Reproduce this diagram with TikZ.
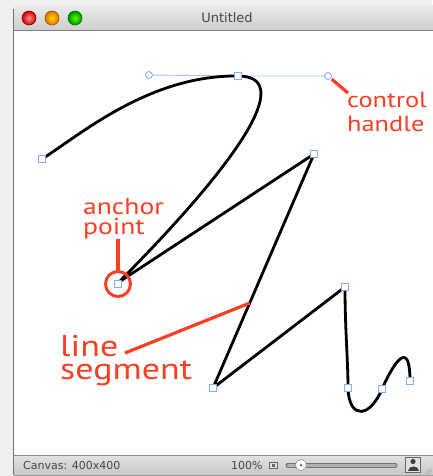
\documentclass[tikz,border=0pt]{standalone}
\usepackage{fontspec}
\setmainfont{DejaVu Sans}
\newfontfamily\calloutfont[FakeStretch=1.2]{PT Sans}
\usetikzlibrary{positioning,calc}
\definecolor{callred}{RGB}{252,62,36}
\definecolor{selblue}{RGB}{135,172,240}
\definecolor{handblue}{RGB}{160,190,245}

\begin{document}
\begin{tikzpicture}[
x=1pt, y=-1pt,
anchorpt/.style={draw=selblue, fill=white, line width=0.8pt, minimum size=7pt, inner sep=0pt},
handlept/.style={circle, draw=selblue, fill=white, line width=0.8pt, minimum size=7pt, inner sep=0pt},
pathline/.style={line width=2.8pt, line cap=round, line join=round},
handleline/.style={draw=handblue, line width=0.9pt},
callout/.style={draw=callred, line width=3.2pt},
lbl/.style={text=callred, inner sep=0pt, align=left, anchor=north west},
light/.style={circle, minimum size=14pt, inner sep=0pt, line width=0.6pt},
chrometext/.style={text=black!72, inner sep=0pt}
]
\useasboundingbox (0,0) rectangle (432,476);
% window chrome
\fill[black!6] (0,0) rectangle (432,476);
\shade[top color=black!8, bottom color=black!24, rounded corners=5pt] (13,5) rectangle (460,40);
\fill[white] (14,31) rectangle (440,455);
\draw[black!50] (14,30.5) -- (440,30.5);
\shade[top color=black!11, bottom color=black!22] (14,455) rectangle (440,475);
\draw[black!45] (14,455.5) -- (440,455.5);
\draw[black!40] (14,475.5) -- (440,475.5);
\draw[black!55] (13.5,9) -- (13.5,475);

\node[light, draw=red!55!black, inner color=red!45, outer color=red!80!black] (btnclose) at (29,18) {};
\node[light, draw=orange!60!black, inner color=yellow!70!orange, outer color=orange!90!black] (btnmin) at (52,18) {};
\node[light, draw=green!45!black, inner color=green!55!lime, outer color=green!55!black] (btnzoom) at (75,18) {};
\node[chrometext, font=\fontsize{13}{15}\selectfont] (title) at (227,18) {Untitled};

% status bar
\node[chrometext, anchor=west, font=\fontsize{11}{13}\selectfont] (canvas) at (23,465) {Canvas: 400x400};
\node[chrometext, anchor=west, font=\fontsize{11}{13}\selectfont] (zoompct) at (231,465) {100\%};
\node[draw=black!60, fill=black!12, minimum width=8pt, minimum height=6pt, inner sep=0pt] (zoomicon) at (273,465) {};
\fill[black!60] (271.5,464) rectangle (274.5,467);
\draw[line width=5pt, line cap=round, black!55] (288,465) -- (395,465);
\draw[line width=3pt, line cap=round, black!30] (288,465.5) -- (395,465.5);
\node[circle, draw=black!50, fill=white, minimum size=11pt, inner sep=0pt] (knob) at (301,465) {};
\fill[black!55] (knob) circle (1.5pt);
\node[draw=black!60, fill=black!12, minimum size=15pt, inner sep=0pt] (usericon) at (413,465) {};
\fill[black!75] (413,461.5) circle (2.6pt);
\fill[black!75] (407.5,471) .. controls (407.5,465) and (418.5,465) .. (418.5,471) -- cycle;
\draw[black!35] (425,474) -- (431,468) (428,474) -- (432,470);

% path points
\coordinate (p0) at (42,159);
\coordinate (p1) at (238,76);
\coordinate (p2) at (119,282);
\coordinate (p3) at (314,154);
\coordinate (p4) at (213,388);
\coordinate (p5) at (345,287);
\coordinate (p6) at (348,388);
\coordinate (p7) at (382,389);
\coordinate (p8) at (410,381);
\coordinate (h1) at (149,75);
\coordinate (h2) at (328,76);

\draw[handleline] (h1) -- (p1) -- (h2);
\draw[pathline] (p0) .. controls (80,135) and (h1) .. (p1)
  .. controls (290,76) and (255,145) .. (p2) -- (p3) -- (p4) -- (p5)
  .. controls (345,330) and (348,360) .. (p6)
  .. controls (349,420) and (370,418) .. (p7)
  .. controls (394,362) and (410,338) .. (p8);

\node[anchorpt] (a0) at (p0) {};
\node[anchorpt] (a1) at (p1) {};
\node[anchorpt] (a2) at (118,284) {};
\node[anchorpt] (a3) at (p3) {};
\node[anchorpt] (a4) at (p4) {};
\node[anchorpt] (a5) at (p5) {};
\node[anchorpt] (a6) at (p6) {};
\node[anchorpt] (a7) at (p7) {};
\node[anchorpt] (a8) at (p8) {};
\node[handlept] (hn1) at (h1) {};
\node[handlept] (hn2) at (h2) {};

% callouts
\node[lbl, font=\calloutfont\fontsize{22}{24}\selectfont] (ctltxt) at (347,92) {control\\handle};
\coordinate (ctlend) at (348,93);
\draw[callout, shorten <=1pt] (hn2) -- (ctlend);

\node[lbl, font=\calloutfont\fontsize{23}{20}\selectfont] (anctxt) at (83,198) {anchor\\point};
\node[circle, draw=callred, line width=3pt, minimum size=25pt, inner sep=0pt] (ring) at (118,284) {};
\draw[callout] (ring.north) -- (ring.north |- anctxt.south);

\node[lbl, font=\calloutfont\fontsize{30}{23}\selectfont] (segtxt) at (60,335) {line\\segment};
\coordinate (segstart) at (125,353);
\coordinate (segpt) at ($(p3)!0.637!(p4)$);
\draw[callout] (segstart) -- (segpt);
\end{tikzpicture}
\end{document}
